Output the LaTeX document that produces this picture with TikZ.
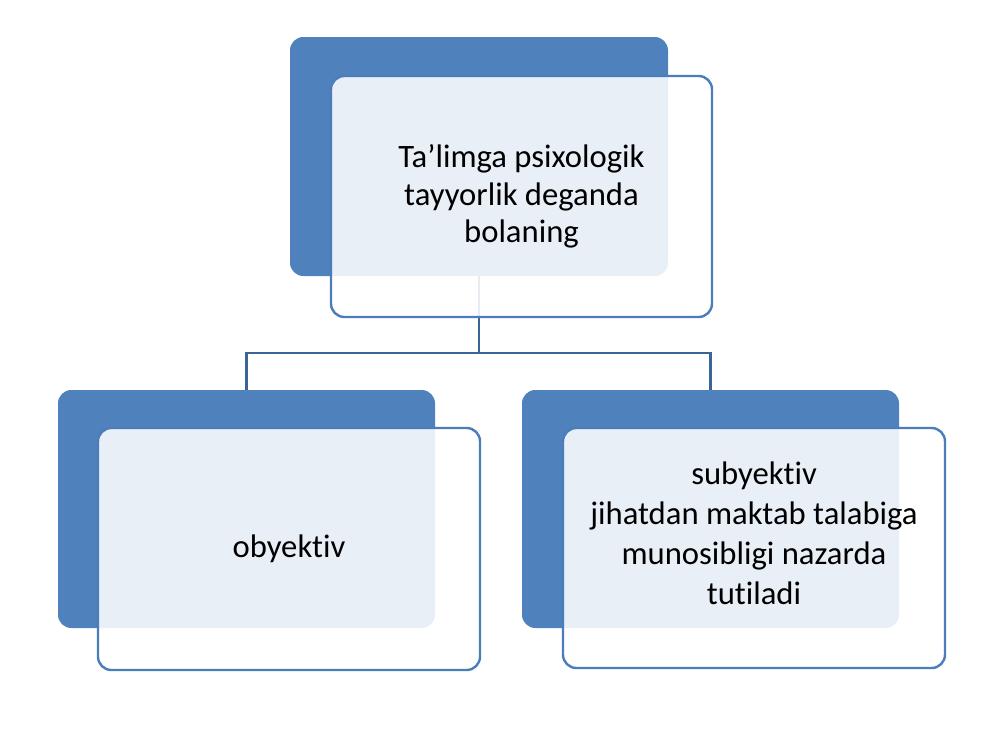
\documentclass[tikz,border=0pt]{standalone}
\usepackage{fontspec}
\setmainfont{Carlito}[Ligatures={NoCommon,NoRequired,NoContextual}]
\definecolor{bluefill}{HTML}{4F81BD}
\definecolor{frontline}{HTML}{4A7DBA}
\definecolor{connline}{HTML}{3B6596}
\newcommand{\tiNL}{t\kern0pt i}
\begin{document}
\begin{tikzpicture}[x=0.75pt,y=-0.75pt,
  backbox/.style={draw=none, fill=bluefill, rounded corners=10pt, inner sep=0pt},
  frontbox/.style={draw=frontline, line width=1.8pt, fill=white, fill opacity=0.88, text opacity=1, rounded corners=10pt, align=center, inner sep=0pt, font=\fontsize{24.5}{28}\selectfont},
  conn/.style={draw=connline, line width=1.6pt},
  lbl/.style={align=center, font=\fontsize{24.5}{30}\selectfont}]
\useasboundingbox[fill=white] (0,0) rectangle (1000,750);
% back boxes
\node[backbox, minimum width=283.5pt, minimum height=179.25pt] (pb) at (479,156.5) {};
\node[backbox, minimum width=282.75pt, minimum height=178.5pt] (lb) at (246.5,509) {};
\node[backbox, minimum width=282.75pt, minimum height=178.5pt] (rb) at (710.5,509) {};
% connectors
\coordinate (j) at (479,353);
\draw[conn] (pb.south) -- (j) -| (lb.north);
\draw[conn] (j) -| (rb.north);
% front boxes
\node[frontbox, minimum width=285.75pt, minimum height=180.75pt] (pf) at (521.5,196.5) {Ta’limga psixologik\\tayyorlik deganda\\bolaning};
\node[frontbox, minimum width=286.5pt, minimum height=181.5pt] (lf) at (289,549) {obyek\tiNL v};
\node[frontbox, minimum width=286.5pt, minimum height=180pt] (rf) at (754,548) {};
\node[lbl] (rt) at (754,533) {subyek\tiNL v\\jihatdan maktab talabiga\\munosibligi nazarda\\tu\tiNL ladi};
\end{tikzpicture}
\end{document}
